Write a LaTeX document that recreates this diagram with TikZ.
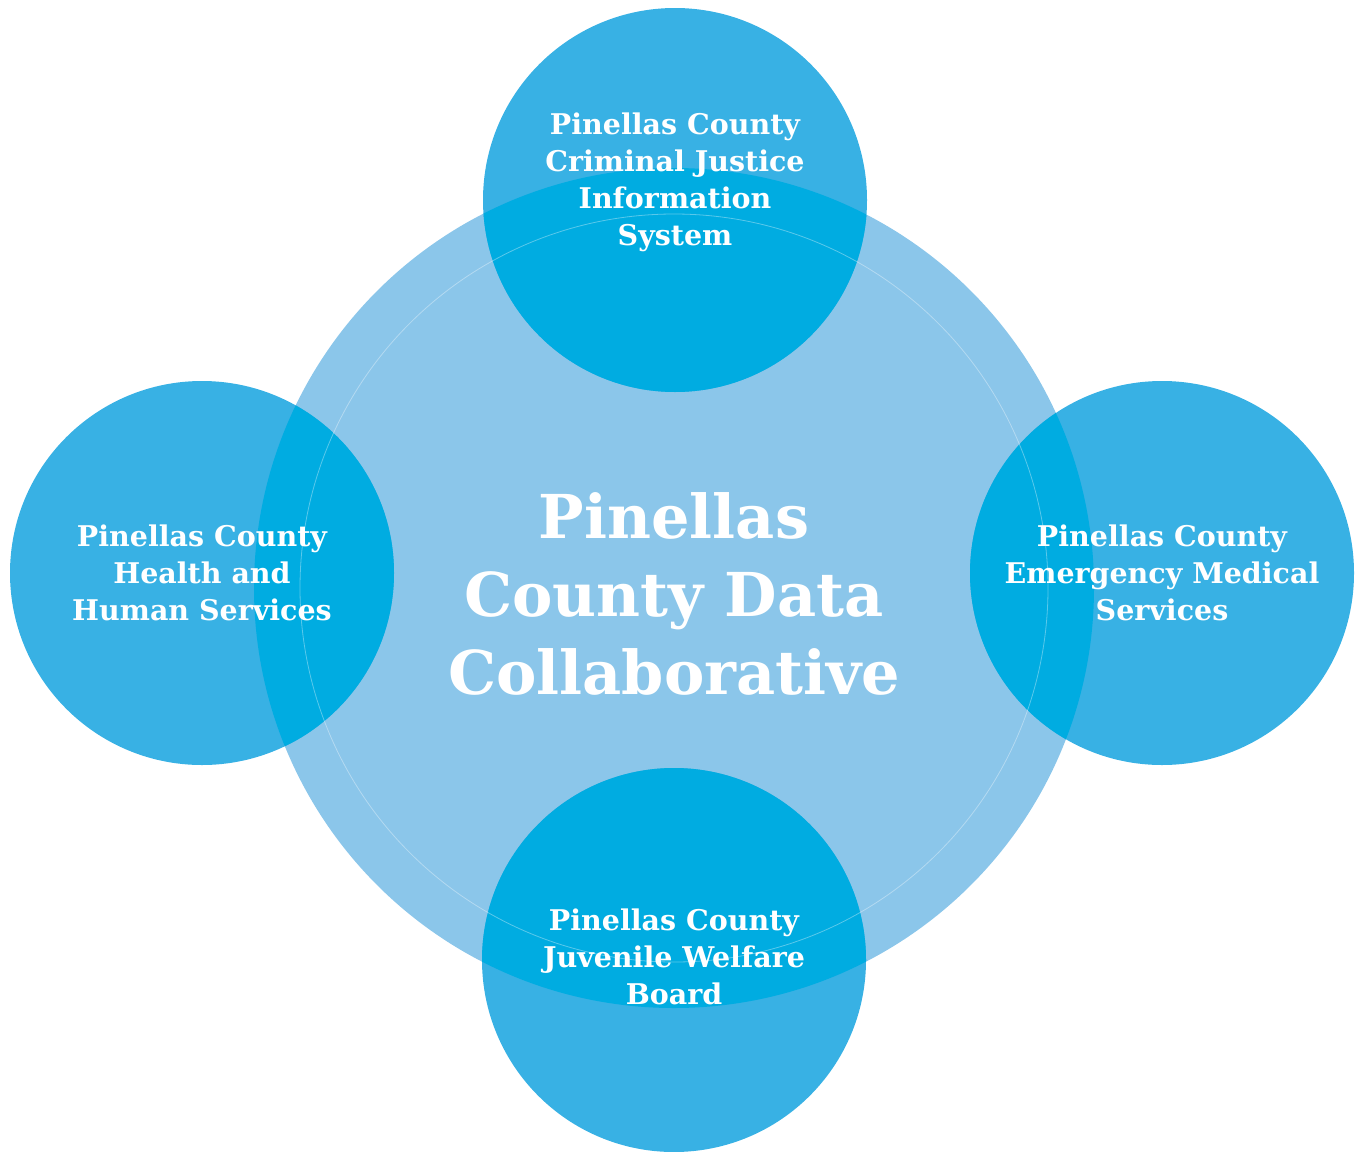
\documentclass[tikz,border=0pt]{standalone}
\usepackage{fontspec}
\setmainfont{DejaVu Serif}
\definecolor{bigblue}{HTML}{8BC6EA}
\definecolor{smallblue}{HTML}{38B1E4}
\definecolor{overblue}{HTML}{00ACE1}

\begin{document}
\begin{tikzpicture}[x=1pt,y=-1pt,
  every node/.style={text=white,font=\bfseries\fontsize{28.5}{37}\selectfont,align=center}]
\useasboundingbox (0,0) rectangle (1359,1151);

\fill[bigblue] (674,588) circle (420pt);
\fill[smallblue] (675,200) circle (192pt);
\fill[smallblue] (202,573) circle (192pt);
\fill[smallblue] (1162,573) circle (192pt);
\fill[smallblue] (674,960) circle (192pt);

\begin{scope}
\clip (674,588) circle (420pt);
\fill[overblue] (675,200) circle (192pt);
\fill[overblue] (202,573) circle (192pt);
\fill[overblue] (1162,573) circle (192pt);
\fill[overblue] (674,960) circle (192pt);
\end{scope}
\draw[white,opacity=0.35,line width=0.8pt] (674,588) circle (374pt);

\node(cjis) at (675,182) {Pinellas County\\Criminal Justice\\Information\\System};
\node(hhs) at (202,573) {Pinellas County\\Health and\\Human Services};
\node(ems) at (1162,573) {Pinellas County\\Emergency Medical\\Services};
\node(jwb) at (674,957) {Pinellas County\\Juvenile Welfare\\Board};
\node[font=\bfseries\fontsize{60.5}{78}\selectfont](pcdc) at (674,594) {Pinellas\\County Data\\Collaborative};
\end{tikzpicture}
\end{document}
